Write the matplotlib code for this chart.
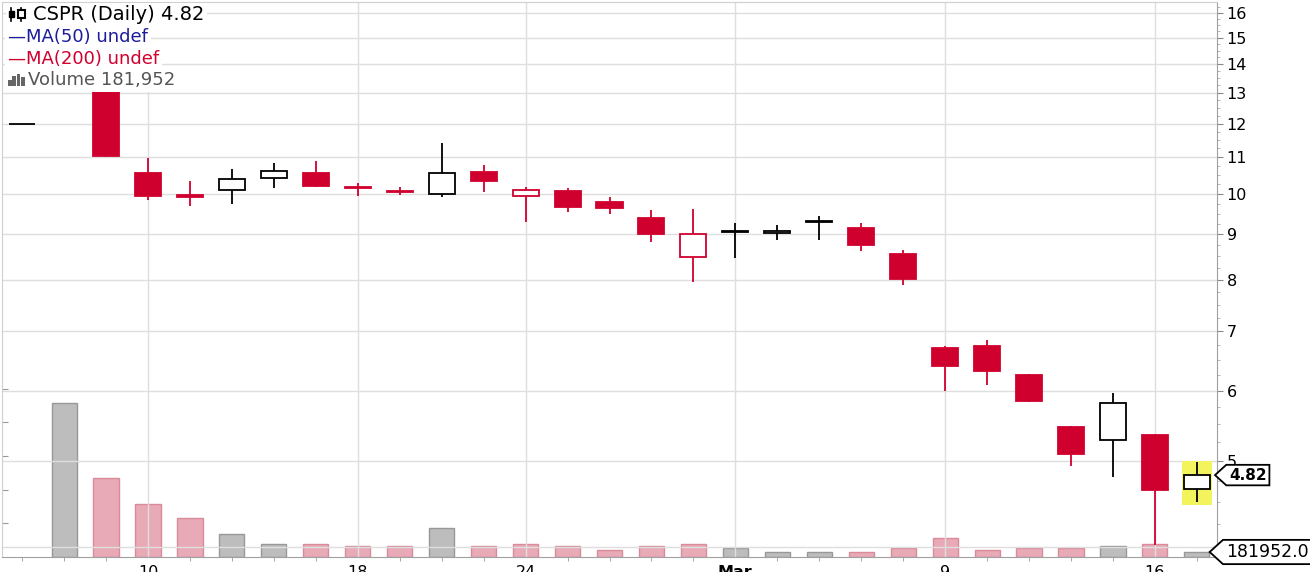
import numpy as np
import matplotlib
matplotlib.use("Agg")
import matplotlib.pyplot as plt
from matplotlib.patches import Rectangle
from matplotlib.lines import Line2D
from matplotlib.path import Path
from matplotlib.ticker import NullFormatter
import matplotlib.transforms as mtransforms

# CSPR daily, 5 Feb - 17 Mar
dates = ["Feb 5", "Feb 6", "Feb 7", "Feb 10", "Feb 11", "Feb 12", "Feb 13", "Feb 14",
         "Feb 18", "Feb 19", "Feb 20", "Feb 21", "Feb 24", "Feb 25", "Feb 26", "Feb 27",
         "Feb 28", "Mar 2", "Mar 3", "Mar 4", "Mar 5", "Mar 6", "Mar 9", "Mar 10",
         "Mar 11", "Mar 12", "Mar 13", "Mar 16", "Mar 17"]
opens = [12.00, 14.00, 13.30, 10.56, 9.97, 10.10, 10.42, 10.56, 10.17, 10.08, 9.99, 10.58,
         9.95, 10.08, 9.78, 9.38, 8.48, 9.06, 9.04, 9.29, 9.14, 8.55, 6.71, 6.74,
         6.25, 5.46, 5.28, 5.35, 4.65]
highs = [12.00, 15.00, 13.30, 10.96, 10.35, 10.67, 10.84, 10.89, 10.28, 10.17, 11.40, 10.79,
         10.18, 10.14, 9.93, 9.58, 9.62, 9.28, 9.23, 9.43, 9.28, 8.64, 6.74, 6.85,
         6.27, 5.47, 5.96, 5.36, 4.98]
lows = [12.00, 13.25, 11.00, 9.85, 9.70, 9.75, 10.15, 10.18, 9.95, 9.98, 9.93, 10.06,
        9.29, 9.54, 9.48, 8.83, 7.96, 8.47, 8.86, 8.88, 8.62, 7.89, 6.00, 6.09,
        5.83, 4.93, 4.79, 4.02, 4.50]
closes = [12.00, 13.60, 11.04, 9.95, 9.93, 10.40, 10.60, 10.20, 10.14, 10.06, 10.56, 10.35,
          10.09, 9.66, 9.64, 9.02, 9.00, 9.07, 9.08, 9.33, 8.75, 8.02, 6.39, 6.32,
          5.84, 5.09, 5.81, 4.64, 4.82]
volumes = [0, 5960000, 3030000, 2025000, 1500000, 880000, 490000, 490000, 415000, 415000,
           1110000, 415000, 490000, 415000, 245000, 415000, 490000, 350000, 181000, 181000,
           181000, 350000, 725000, 260000, 350000, 350000, 415000, 490000, 181952]

tick_idx = [3, 8, 12, 17, 22, 27]
tick_lbl = ["10", "18", "24", "Mar", "9", "16"]
price_ticks = [4, 5, 6, 7, 8, 9, 10, 11, 12, 13, 14, 15, 16]

RED = "#d0002e"
PINK = "#e8aab6"
PINK_EDGE = "#d98a9b"
GREY = "#bdbdbd"
GREY_EDGE = "#989898"
GRID = "#dedede"

W, H = 1310, 572
fig = plt.figure(figsize=(W / 100, H / 100), dpi=100)
rect = [2 / W, (H - 556.7) / H, 1215 / W, 554.7 / H]
# pixel coords measured from the top-left corner
pix = mtransforms.Affine2D().scale(1 / W, -1 / H).translate(0, 1) + fig.transFigure

# volume underneath
axv = fig.add_axes(rect)
ax = fig.add_axes(rect)
ax.patch.set_alpha(0)

n = len(closes)
x = np.arange(n)

for i in range(n):
    if volumes[i] <= 0:
        continue
    up = i == 0 or closes[i] >= closes[i - 1]
    axv.bar(i, volumes[i], width=0.6, color=GREY if up else PINK,
            edgecolor=GREY_EDGE if up else PINK_EDGE, linewidth=1)
axv.set_xlim(-0.48, 28.48)
axv.set_ylim(0, 21.47e6)
axv.set_xticks([])
axv.set_yticks(np.arange(1.3e6, 7e6, 1.3e6))
axv.tick_params(axis="y", direction="in", length=4, color="#999999", labelleft=False)
for s in axv.spines.values():
    s.set_visible(False)

# candles
bw = 0.62
for i in range(n):
    o, h, l, c = opens[i], highs[i], lows[i], closes[i]
    up = i == 0 or c >= closes[i - 1]
    col = "black" if up else RED
    if i == 0:
        ax.hlines(c, i - bw / 2, i + bw / 2, color=col, lw=1.3, zorder=2)
        continue
    ax.vlines(i, l, h, color=col, lw=1.3, zorder=2)
    lo, hi = min(o, c), max(o, c)
    fill = col if c < o else "white"
    ax.add_patch(Rectangle((i - bw / 2, lo), bw, hi - lo, facecolor=fill,
                           edgecolor=col, lw=1.3, zorder=2.2))

# yellow highlight on last bar
last = n - 1
ax.add_patch(Rectangle((last - 0.36, lows[last] * 0.99), 0.72,
                       highs[last] * 1.003 - lows[last] * 0.99,
                       facecolor="#f3f35e", edgecolor="none", zorder=1.8))

ax.set_yscale("log")
ax.set_ylim(3.90, 16.45)
ax.set_xlim(-0.48, 28.48)
ax.set_yticks(price_ticks, [str(t) for t in price_ticks])
ax.set_yticks(np.arange(4, 16.5, 0.25), minor=True)
ax.yaxis.set_minor_formatter(NullFormatter())
ax.yaxis.tick_right()
ax.tick_params(axis="y", which="major", length=4, pad=3, labelsize=11.5, color="#888888")
ax.tick_params(axis="y", which="minor", length=2, color="#aaaaaa")

ax.set_xticks(tick_idx, tick_lbl)
ax.set_xticks(x, minor=True)
ax.tick_params(axis="x", which="major", length=0, pad=6, labelsize=11.5)
ax.tick_params(axis="x", which="minor", length=3, color="#999999")
for lab in ax.get_xticklabels():
    if lab.get_text() == "Mar":
        lab.set_fontweight("bold")

ax.grid(True, which="major", color=GRID, lw=1)
ax.spines["left"].set_color("#cfcfcf")
ax.spines["top"].set_color("#cfcfcf")
ax.spines["right"].set_color("#a0a0a0")
ax.spines["bottom"].set_color("#a0a0a0")


def tag_box(x0, y0, width, height, mutation_size):
    pad = mutation_size * 0.18
    x0, y0 = x0 - pad, y0 - pad
    w, h = width + 2 * pad, height + 2 * pad
    verts = [(x0, y0), (x0 + w, y0), (x0 + w, y0 + h), (x0, y0 + h),
             (x0 - h * 0.55, y0 + h / 2), (x0, y0)]
    return Path(verts, closed=True)


trans = mtransforms.blended_transform_factory(ax.transAxes, ax.transData)
ax.text(1.0099, closes[last], f"{closes[last]:.2f}", transform=trans, ha="left",
        va="center", fontsize=11, fontweight="bold", clip_on=False, zorder=10,
        bbox=dict(boxstyle=tag_box, facecolor="white", edgecolor="black", lw=1.3))
transv = mtransforms.blended_transform_factory(ax.transAxes, axv.transData)
ax.text(1.0075, volumes[last], f"{volumes[last]:.1f}", transform=transv, ha="left",
        va="center", fontsize=12.5, clip_on=False, zorder=10,
        bbox=dict(boxstyle=tag_box, facecolor="white", edgecolor="black", lw=1.3))

# legend block, top left
bb = dict(boxstyle="square,pad=0.15", facecolor="white", edgecolor="none")
fig.text(33 / W, 1 - 15 / H, "CSPR (Daily) 4.82", color="black", fontsize=14,
         ha="left", va="center", bbox=bb)
fig.text(8 / W, 1 - 37 / H, "\u2014MA(50) undef", color="#1c1c9c", fontsize=13,
         ha="left", va="center", bbox=bb)
fig.text(8 / W, 1 - 59 / H, "\u2014MA(200) undef", color=RED, fontsize=13,
         ha="left", va="center", bbox=bb)
fig.text(28 / W, 1 - 80 / H, "Volume 181,952", color="#555555", fontsize=13,
         ha="left", va="center", bbox=bb)

# little icons in front of the legend lines
fig.add_artist(Rectangle((6, 4), 24, 22, transform=pix, facecolor="white", edgecolor="none", zorder=5))
fig.add_artist(Line2D([11, 11], [8, 21], transform=pix, color="black", lw=1.2, zorder=6))
fig.add_artist(Rectangle((9, 11), 4.5, 6, transform=pix, facecolor="black", edgecolor="black", lw=1, zorder=6))
fig.add_artist(Line2D([21, 21], [8, 21], transform=pix, color="black", lw=1.2, zorder=6))
fig.add_artist(Rectangle((17.5, 10), 7, 8, transform=pix, facecolor="white", edgecolor="black", lw=1.5, zorder=7))
fig.add_artist(Rectangle((6, 70), 22, 20, transform=pix, facecolor="white", edgecolor="none", zorder=5))
for bx, bh in [(8, 6), (12, 10), (16.5, 12), (21, 9)]:
    fig.add_artist(Rectangle((bx, 86 - bh), 3.6, bh, transform=pix, facecolor="#666666",
                             edgecolor="none", zorder=6))

fig.savefig("out.png", dpi=100)
